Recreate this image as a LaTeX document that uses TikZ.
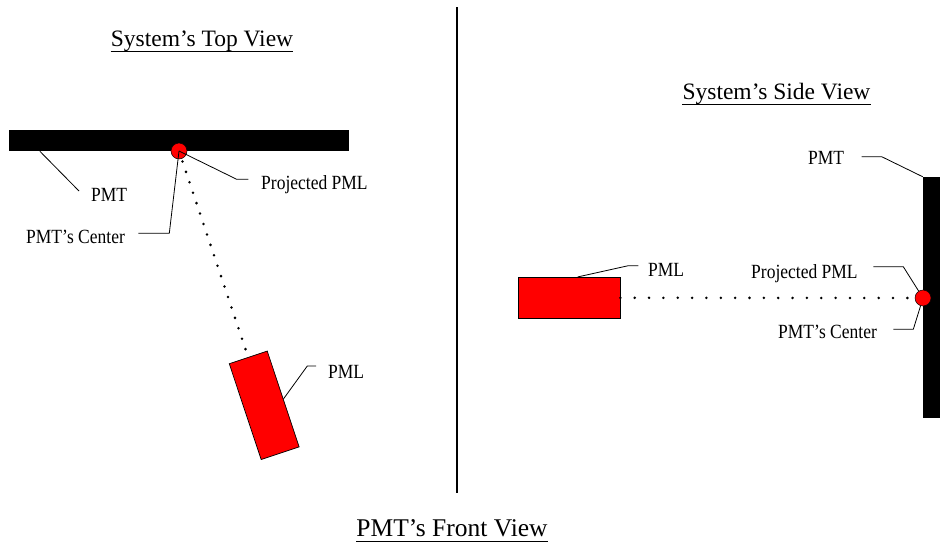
\documentclass[tikz,border=0pt]{standalone}
\usepackage{fontspec}
\usepackage{graphicx}
\setmainfont{Liberation Serif}
\newcommand{\tallText}[1]{\scalebox{1}[1.15]{#1}}
\begin{document}
\begin{tikzpicture}[x=1pt,y=-1pt,
  lbl/.style={font=\fontsize{17.5}{20}\selectfont, inner sep=0pt, anchor=base west},
  ttl/.style={font=\fontsize{23.5}{27}\selectfont, inner sep=0pt, anchor=base},
  uline/.style={line width=0.9pt},
  bar/.style={fill=black, draw=none, inner sep=0pt},
  hit/.style={circle, fill=red, draw=black, line width=0.5pt, minimum size=16pt, inner sep=0pt},
  lens/.style={fill=red, draw=black, line width=0.7pt, inner sep=0pt},
  leader/.style={draw=black, line width=0.8pt},
  beam/.style={line width=2.8pt, line cap=round, dash pattern=on 0pt off 11pt}]

\useasboundingbox (0,0) rectangle (940,546);

% divider between the two views
\draw[line width=2pt] (457,7) -- (457,493);

% titles
\node[ttl] (tTop) at (202,46) {System’s Top View};
\draw[uline] ([yshift=-5pt]tTop.base west) -- ([yshift=-5pt]tTop.base east);
\node[ttl] (tSide) at (776.5,99.5) {System’s Side View};
\draw[uline] ([yshift=-5pt]tSide.base west) -- ([yshift=-5pt]tSide.base east);
\node[ttl, font=\fontsize{25.5}{29}\selectfont] (tFront) at (452,536) {PMT’s Front View};
\draw[uline] ([yshift=-5pt]tFront.base west) -- ([yshift=-5pt]tFront.base east);

% ---------- top view ----------
\node[bar, minimum width=340pt, minimum height=21pt] (pmtTop) at (179,140.5) {};
\node[lens, minimum width=40pt, minimum height=101pt, rotate=18.4] (pmlTop) at (264.2,405.3) {};
\coordinate (cTop) at (179,151);
\draw[beam] (cTop) -- (pmlTop.north);
\node[hit] (hitTop) at (cTop) {};

\node[lbl] (lPmtTop) at (91,201) {\tallText{PMT}};
\draw[leader] ([xshift=31pt]pmtTop.south west) -- (79,191);

\node[lbl] (lProjTop) at (261,189) {\tallText{Projected PML}};
\draw[leader] (hitTop.center) -- (236.7,179.3) -- (248.3,179.3);

\node[lbl] (lCenTop) at (26,243) {\tallText{PMT’s Center}};
\draw[leader] (138.3,233.3) -- (169.3,233.3) -- (hitTop.center);

\node[lbl] (lPmlTop) at (328,378) {\tallText{PML}};
\draw[leader] (pmlTop.east) -- (307.3,366) -- (316,366);

% ---------- side view ----------
\node[bar, minimum width=17pt, minimum height=241pt] (pmtSide) at (931.5,297.5) {};
\node[lens, minimum width=102pt, minimum height=41pt] (pmlSide) at (569,297.8) {};
\coordinate (cSide) at (923,298);
\draw[beam, dash pattern=on 0pt off 14.35pt] (pmlSide.east) -- (cSide);
\node[hit] (hitSide) at (cSide) {};

\node[lbl] (lPmtSide) at (808,164) {\tallText{PMT}};
\draw[leader] (861.7,156.7) -- (881.7,156.7) -- (pmtSide.north west);

\node[lbl] (lPmlSide) at (648,276) {\tallText{PML}};
\draw[leader] ([xshift=60pt]pmlSide.north west) -- (628.3,265.7) -- (638.3,265.7);

\node[lbl] (lProjSide) at (751,278) {\tallText{Projected PML}};
\draw[leader] (873.3,266.7) -- (903.3,266.7) -- (hitSide);

\node[lbl] (lCenSide) at (778,338) {\tallText{PMT’s Center}};
\draw[leader] (893.3,329.3) -- (913.3,329.3) -- (hitSide);
\end{tikzpicture}
\end{document}
